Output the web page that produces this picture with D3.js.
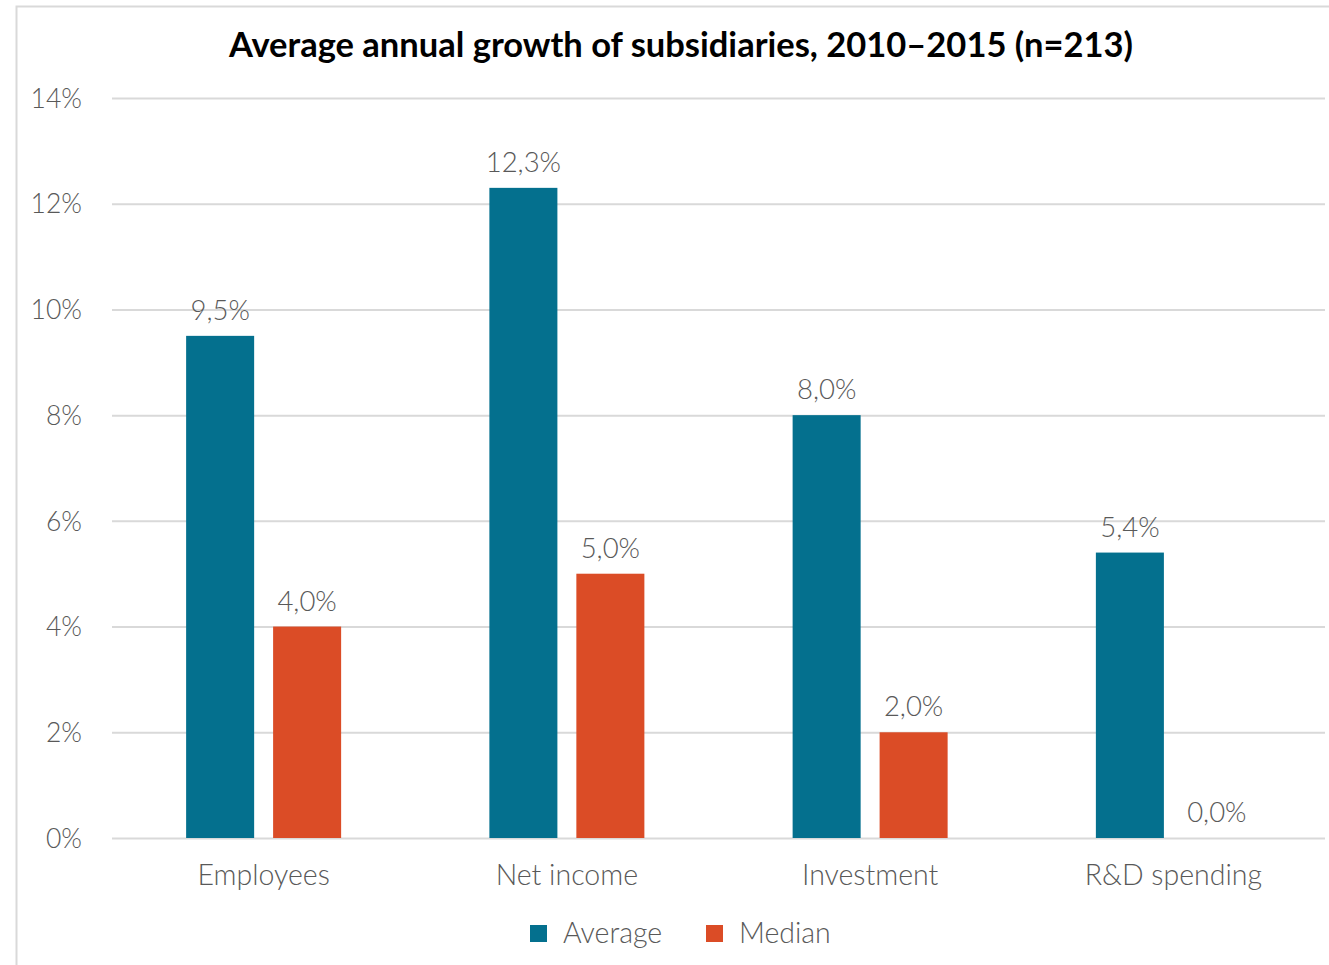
<!DOCTYPE html>
<html>
<head>
<meta charset="utf-8">
<script src="https://cdn.jsdelivr.net/npm/d3@7"></script>
<style>
  html, body { margin: 0; padding: 0; background: #fff; }
  svg { display: block; font-family: Lato, "Open Sans", sans-serif; }
</style>
</head>
<body>
<svg id="chart" width="1329" height="965"></svg>
<script>
// Chart data
const categories = ["Employees", "Net income", "Investment", "R&D spending"];
const seriesNames = ["Average", "Median"];
const averageValues = [9.5, 12.3, 8.0, 5.4];
const medianValues = [4.0, 5.0, 2.0, 0.0];
const yTicks = [0, 2, 4, 6, 8, 10, 12, 14];
const titleText = "Average annual growth of subsidiaries, 2010–2015 (n=213)";

const colors = { Average: "#04708e", Median: "#db4c26" };
const textGray = "#595959";
const labelWeight = 300;

const rows = categories.map((c, i) => ({
  category: c,
  values: [
    { series: "Average", value: averageValues[i] },
    { series: "Median", value: medianValues[i] }
  ]
}));

const svg = d3.select("#chart");
const W = 1329, H = 965;
const plot = { left: 112, right: 1325, top: 98, bottom: 838 };

// Chart frame
svg.append("rect")
  .attr("x", 16.5).attr("y", 6.5)
  .attr("width", W + 10).attr("height", H + 10)
  .attr("fill", "#fff")
  .attr("stroke", "#d9d9d9").attr("stroke-width", 2);

const y = d3.scaleLinear().domain([0, 14]).range([plot.bottom, plot.top]);
const x0 = d3.scaleBand().domain(categories).range([plot.left, plot.right]).padding(0);
const groupWidth = 155;
const x1 = d3.scaleBand().domain(seriesNames)
  .range([(x0.bandwidth() - groupWidth) / 2, (x0.bandwidth() + groupWidth) / 2])
  .paddingInner(0.218).paddingOuter(0);

const locale = d3.formatLocale({ decimal: ",", thousands: ".", grouping: [3], currency: ["", ""] });
const fmtVal = v => locale.format(".1f")(v) + "%";
const fmtTick = v => locale.format("d")(v) + "%";

// Gridlines and y labels
const yAxis = d3.axisLeft(y).tickValues(yTicks).tickFormat(fmtTick)
  .tickSize(-(plot.right - plot.left)).tickPadding(30);
const gy = svg.append("g").attr("transform", `translate(${plot.left},0)`).call(yAxis);
gy.select(".domain").remove();
gy.selectAll(".tick line").attr("stroke", "#d9d9d9").attr("stroke-width", 2);
gy.selectAll(".tick text")
  .attr("fill", textGray).attr("font-size", 26.5).attr("dy", "0.35em")
  .attr("font-weight", labelWeight)
  .attr("font-family", "Lato, sans-serif");

// Category axis labels
const xAxis = d3.axisBottom(x0).tickSize(0).tickPadding(27);
const gx = svg.append("g").attr("transform", `translate(0,${plot.bottom})`).call(xAxis);
gx.select(".domain").remove();
gx.selectAll(".tick text")
  .attr("fill", textGray).attr("font-size", 28.5)
  .attr("font-weight", labelWeight)
  .attr("font-family", "Lato, sans-serif");

// Bars
const groups = svg.append("g").selectAll("g.cat")
  .data(rows).join("g")
  .attr("class", "cat")
  .attr("transform", d => `translate(${x0(d.category)},0)`);

groups.selectAll("rect")
  .data(d => d.values).join("rect")
  .attr("x", d => x1(d.series))
  .attr("width", x1.bandwidth())
  .attr("y", d => y(d.value))
  .attr("height", d => y(0) - y(d.value))
  .attr("fill", d => colors[d.series]);

// Value labels
groups.selectAll("text.val")
  .data(d => d.values).join("text")
  .attr("class", "val")
  .attr("x", d => x1(d.series) + x1.bandwidth() / 2)
  .attr("y", d => y(d.value) - 16)
  .attr("text-anchor", "middle")
  .attr("fill", textGray)
  .attr("font-size", 27.5)
  .attr("font-weight", labelWeight)
  .text(d => fmtVal(d.value));

// Title
svg.append("text")
  .attr("x", 681).attr("y", 57)
  .attr("text-anchor", "middle")
  .attr("font-size", 34.5).attr("font-weight", 700)
  .attr("fill", "#000")
  .text(titleText);

// Legend
const legendItems = [
  { name: "Average", x: 530 },
  { name: "Median", x: 706 }
];
const lg = svg.append("g").selectAll("g").data(legendItems).join("g")
  .attr("transform", d => `translate(${d.x},925)`);
lg.append("rect").attr("width", 17).attr("height", 17).attr("fill", d => colors[d.name]);
lg.append("text").attr("x", 33).attr("y", 18)
  .attr("fill", textGray).attr("font-size", 28.5)
  .attr("font-weight", labelWeight)
  .text(d => d.name);
</script>
</body>
</html>
